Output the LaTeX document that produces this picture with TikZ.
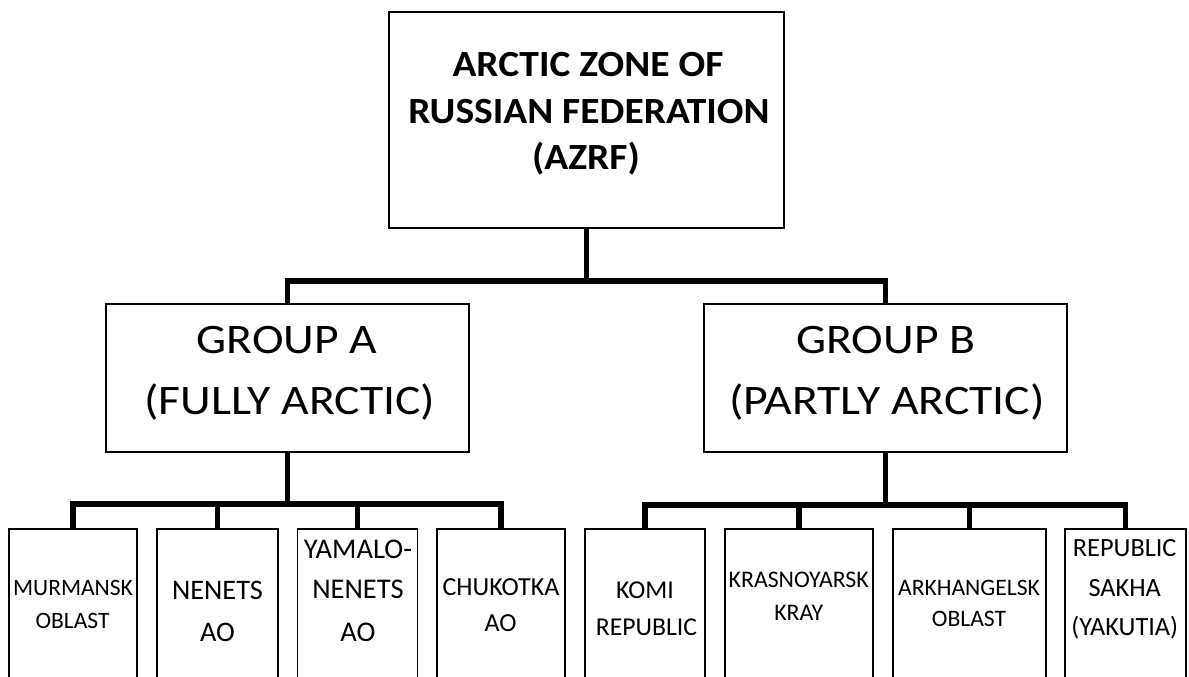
\documentclass[tikz,border=0pt]{standalone}
\usepackage{fontspec}
\setmainfont{Carlito}
\newfontfamily\topfont[FakeStretch=1.07]{Carlito}
\newfontfamily\grpfont[FakeStretch=1.135]{Carlito}
\newcommand\fsz[1]{\fontsize{#1}{#1}\selectfont}
\tikzset{
  box/.style={draw=black, line width=1.8pt, inner sep=0pt, outer sep=0pt},
  conn/.style={draw=black, line width=5.5pt, line join=miter},
  lbl/.style={anchor=base, inner sep=0pt, outer sep=0pt},
  toplbl/.style={lbl, font=\topfont\bfseries\fsz{36.9}},
  grplbl/.style={lbl, font=\grpfont\fsz{42}},
}
\begin{document}
\begin{tikzpicture}[x=1pt,y=-1pt]
\useasboundingbox (0,0) rectangle (1189,677);
\clip (0,0) rectangle (1189,677);

% boxes
\node[box, minimum width=395pt, minimum height=216pt] (top) at (586.5,120) {};
\node[box, minimum width=363pt, minimum height=148pt] (ga) at (287.5,378) {};
\node[box, minimum width=363pt, minimum height=148pt] (gb) at (885.5,378) {};

\node[box, minimum width=128pt, minimum height=191pt] (m1) at (73,624.5) {};
\node[box, minimum width=121pt, minimum height=191pt] (m2) at (217.5,624.5) {};
\node[box, minimum width=120pt, minimum height=191pt] (m3) at (357.5,624.5) {};
\node[box, minimum width=128pt, minimum height=191pt] (m4) at (501,624.5) {};
\node[box, minimum width=120pt, minimum height=191pt] (b1) at (645,624.5) {};
\node[box, minimum width=147.7pt, minimum height=191pt] (b2) at (798.8,624.5) {};
\node[box, minimum width=152.4pt, minimum height=191pt] (b3) at (969.5,624.5) {};
\node[box, minimum width=121pt, minimum height=191pt] (b4) at (1125.5,624.5) {};

% connectors
\coordinate (j1) at (586.5,281);
\draw[conn] (top.south) -- (j1);
\draw[conn] (ga.north) |- (j1) -| (gb.north);

\coordinate (j2) at (287.5,504);
\draw[conn] (ga.south) -- (j2);
\draw[conn] (m1.north) |- (j2) -| (m4.north);
\draw[conn] (m2.north) -- (m2.north |- j2);
\draw[conn] (m3.north) -- (m3.north |- j2);

\coordinate (j3) at (885.5,505);
\draw[conn] (gb.south) -- (j3);
\draw[conn] (b1.north) |- (j3) -| (b4.north);
\draw[conn] (b2.north) -- (b2.north |- j3);
\draw[conn] (b3.north) -- (b3.north |- j3);

% texts
\node[toplbl] (t1) at (588,77) {ARCTIC ZONE OF};
\node[toplbl] (t2) at (589,123) {RUSSIAN FEDERATION};
\node[toplbl] (t3) at (586,169) {(AZRF)};

\node[grplbl] (ga1) at (287,353.5) {GROUP A};
\node[grplbl] (ga2) at (290,414) {(FULLY ARCTIC)};
\node[grplbl] (gb1) at (885.8,353.5) {GROUP B};
\node[grplbl] (gb2) at (887,414) {(PARTLY ARCTIC)};

\node[lbl, font=\fsz{23.5}] (m1a) at (73,595) {MURMANSK};
\node[lbl, font=\fsz{23.5}] (m1b) at (72.5,628) {OBLAST};

\node[lbl, font=\fsz{28.3}] (m2a) at (217.5,599.3) {NENETS};
\node[lbl, font=\fsz{28.3}] (m2b) at (217.5,641.7) {AO};

\node[lbl, font=\fsz{28.5}] (m3a) at (358,558.3) {YAMALO-};
\node[lbl, font=\fsz{28.5}] (m3b) at (358,598) {NENETS};
\node[lbl, font=\fsz{28.5}] (m3c) at (358,641.7) {AO};

\node[lbl, font=\fsz{26}] (m4a) at (501,595) {CHUKOTKA};
\node[lbl, font=\fsz{26}] (m4b) at (500.5,631.7) {AO};

\node[lbl, font=\fsz{25.7}] (b1a) at (645,598.3) {KOMI};
\node[lbl, font=\fsz{25.7}] (b1b) at (646.5,635) {REPUBLIC};

\node[lbl, font=\fsz{23.8}] (b2a) at (798.7,587.3) {KRASNOYARSK};
\node[lbl, font=\fsz{23.8}] (b2b) at (798.7,620.7) {KRAY};

\node[lbl, font=\fsz{23.6}] (b3a) at (969,595) {ARKHANGELSK};
\node[lbl, font=\fsz{23.6}] (b3b) at (969,626.7) {OBLAST};

\node[lbl, font=\fsz{26.3}] (b4a) at (1124.7,556.7) {REPUBLIC};
\node[lbl, font=\fsz{26.3}] (b4b) at (1124.7,596.7) {SAKHA};
\node[lbl, font=\fsz{26.3}] (b4c) at (1124.7,635) {(YAKUTIA)};
\end{tikzpicture}
\end{document}
